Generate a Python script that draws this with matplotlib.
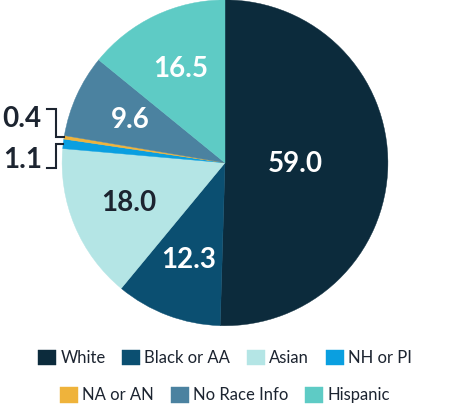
import matplotlib.pyplot as plt
import numpy as np

plt.rcParams['font.family'] = ['Lato', 'DejaVu Sans']

# 数据
categories = ['White', 'Black or AA', 'Asian', 'NH or PI', 'NA or AN', 'No Race Info', 'Hispanic']
values = [59.0, 12.3, 18.0, 1.1, 0.4, 9.6, 16.5]
colors = ['#0c2b3c', '#0b4f71', '#b4e5e5', '#0a9fe0', '#efb33b', '#4b82a0', '#5ecbc5']

fig = plt.figure(figsize=(4.5, 4.04), dpi=100)
ax = fig.add_axes([0.138, 0.1935, 0.724, 0.807])

wedges, _ = ax.pie(values, colors=colors, startangle=90, counterclock=False,
                   radius=1, wedgeprops=dict(linewidth=0.3))
for w in wedges:
    w.set_edgecolor(w.get_facecolor())
ax.set_xlim(-1, 1)
ax.set_ylim(-1, 1)
ax.set_aspect('equal')
ax.axis('off')

def mid_angle(w):
    return np.deg2rad((w.theta1 + w.theta2) / 2)

# 大扇区标签
for i, (w, v) in enumerate(zip(wedges, values)):
    if v < 2:
        continue
    a = mid_angle(w)
    r = 0.43 if i == 0 else 0.64
    txt_color = '#1c2430' if categories[i] == 'Asian' else 'white'
    ax.text(r * np.cos(a), r * np.sin(a), f'{v:.1f}', ha='center', va='center',
            fontsize=20, fontweight='bold', color=txt_color)

# 小扇区标签 + 括号线
small = {'NA or AN': (0.331, 0.27), 'NH or PI': (-0.03, 0.02)}
xk, xt = -1.035, -1.09
for name, (yb, ytext) in small.items():
    i = categories.index(name)
    a = mid_angle(wedges[i])
    xe, ye = np.cos(a), np.sin(a)
    ax.plot([xe, xk, xk, xt], [ye, ye, yb, yb], color='#1c2430', lw=1.5,
            clip_on=False, solid_joinstyle='miter')
    ax.text(-1.125, ytext, f'{values[i]:.1f}', ha='right', va='center',
            fontsize=20, fontweight='bold', color='#1c2430', clip_on=False)

# 图例：两行分别居中
leg_kw = dict(frameon=False, fontsize=12, handlelength=1.08, handleheight=1.08,
              handletextpad=0.25, columnspacing=1.0, borderpad=0, borderaxespad=0,
              loc='center')
fig.legend(wedges[:4], categories[:4], ncol=4, bbox_to_anchor=(0.5, 0.114), **leg_kw)
fig.legend(wedges[4:], categories[4:], ncol=3, bbox_to_anchor=(0.5, 0.022), **leg_kw)
for leg in fig.legends:
    for t in leg.get_texts():
        t.set_color('#1c2430')

plt.savefig('out.png', dpi=100, facecolor='white')
plt.close(fig)
